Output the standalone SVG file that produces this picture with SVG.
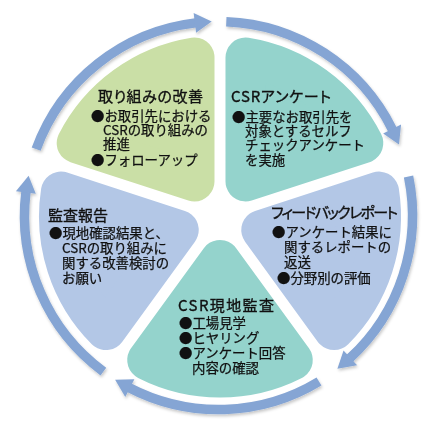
<svg xmlns="http://www.w3.org/2000/svg" xmlns:xlink="http://www.w3.org/1999/xlink" width="433" height="433" viewBox="0 0 433 433">
  <style>
    .seg { stroke-width: 40; stroke-linejoin: round; }
    .green { fill: #CADFA6; stroke: #CADFA6; }
    .teal { fill: #94D3CC; stroke: #94D3CC; }
    .blue { fill: #B3C7E6; stroke: #B3C7E6; }
    .band { fill: none; stroke: #85A5D4; stroke-width: 9.5; }
    .head { fill: #85A5D4; }
    text { font-family: "Noto Sans CJK JP", "Noto Sans", sans-serif; fill: #111; stroke: #111; stroke-width: 0.25; }
    .title { font-size: 15px; font-feature-settings: "palt"; stroke-width: 0.35; }
    .body { font-size: 13.4px; }
  </style>
  <defs>
    <filter id="shadow" x="-10%" y="-10%" width="120%" height="120%">
      <feDropShadow dx="1" dy="2" stdDeviation="1.5" flood-color="#000" flood-opacity="0.22"/>
    </filter>
    <polygon id="head" points="401.80,199.46 421.72,197.72 412.5,215.5"/>
  </defs>
  <rect width="433" height="433" fill="#fff"/>

  <g id="connectors" filter="url(#shadow)">
    <path class="band" d="M 36.20 149.15 A 194 194 0 0 1 195.53 22.86"/>
    <use xlink:href="#head" class="head" transform="rotate(268 218.5 215.5)"/>
    <path class="band" d="M 226.29 21.66 A 194 194 0 0 1 392.41 129.54"/>
    <use xlink:href="#head" class="head" transform="rotate(338.5 218.5 215.5)"/>
    <path class="band" d="M 408.54 176.49 A 194 194 0 0 1 349.81 358.30"/>
    <use xlink:href="#head" class="head" transform="rotate(52.2 218.5 215.5)"/>
    <path class="band" d="M 319.00 381.44 A 194 194 0 0 1 129.22 387.74"/>
    <use xlink:href="#head" class="head" transform="rotate(122.2 218.5 215.5)"/>
    <path class="band" d="M 103.38 371.65 A 194 194 0 0 1 25.95 191.86"/>
    <use xlink:href="#head" class="head" transform="rotate(191.8 218.5 215.5)"/>
  </g>

  <g id="node-kaizen">
    <path class="seg green" d="M 194.50 181.40 L 76.69 143.13 A 161 161 0 0 1 194.51 57.53 Z"/>
    <text class="title" x="98" y="102" textLength="105">取り組みの改善</text>
    <text class="body" x="91" y="121">●お取引先における</text>
    <text class="body" x="103" y="135">CSRの取り組みの</text>
    <text class="body" x="103" y="149">推進</text>
    <text class="body" x="91" y="165">●フォローアップ</text>
  </g>

  <g id="node-enquete">
    <path class="seg teal" d="M 245.50 181.40 L 245.49 57.53 A 161 161 0 0 1 363.31 143.13 Z"/>
    <text class="title" x="231" y="102" textLength="100">CSRアンケート</text>
    <text class="body" x="232" y="122">●主要なお取引先を</text>
    <text class="body" x="245" y="136">対象とするセルフ</text>
    <text class="body" x="245" y="150">チェックアンケート</text>
    <text class="body" x="245" y="165">を実施</text>
  </g>

  <g id="node-feedback">
    <path class="seg blue" d="M 261.26 229.90 L 379.07 191.62 A 161 161 0 0 1 334.07 330.12 Z"/>
    <text class="title" x="271" y="218" textLength="127">フィードバックレポート</text>
    <text class="body" x="272" y="237">●アンケート結果に</text>
    <text class="body" x="284" y="252">関するレポートの</text>
    <text class="body" x="284" y="267">返送</text>
    <text class="body" x="277" y="283">●分野別の評価</text>
  </g>

  <g id="node-audit">
    <path class="seg teal" d="M 220 259.88 L 292.80 360.10 A 161 161 0 0 1 147.20 360.10 Z"/>
    <text class="title" x="178" y="311" textLength="96">CSR現地監査</text>
    <text class="body" x="179" y="328">●工場見学</text>
    <text class="body" x="179" y="343">●ヒヤリング</text>
    <text class="body" x="179" y="358">●アンケート回答</text>
    <text class="body" x="192" y="373">内容の確認</text>
  </g>

  <g id="node-report">
    <path class="seg blue" d="M 178.74 229.90 L 105.93 330.12 A 161 161 0 0 1 60.93 191.62 Z"/>
    <text class="title" x="48" y="221" textLength="60">監査報告</text>
    <text class="body" x="49" y="238">●現地確認結果と、</text>
    <text class="body" x="62" y="253">CSRの取り組みに</text>
    <text class="body" x="62" y="268">関する改善検討の</text>
    <text class="body" x="62" y="283">お願い</text>
  </g>
</svg>
